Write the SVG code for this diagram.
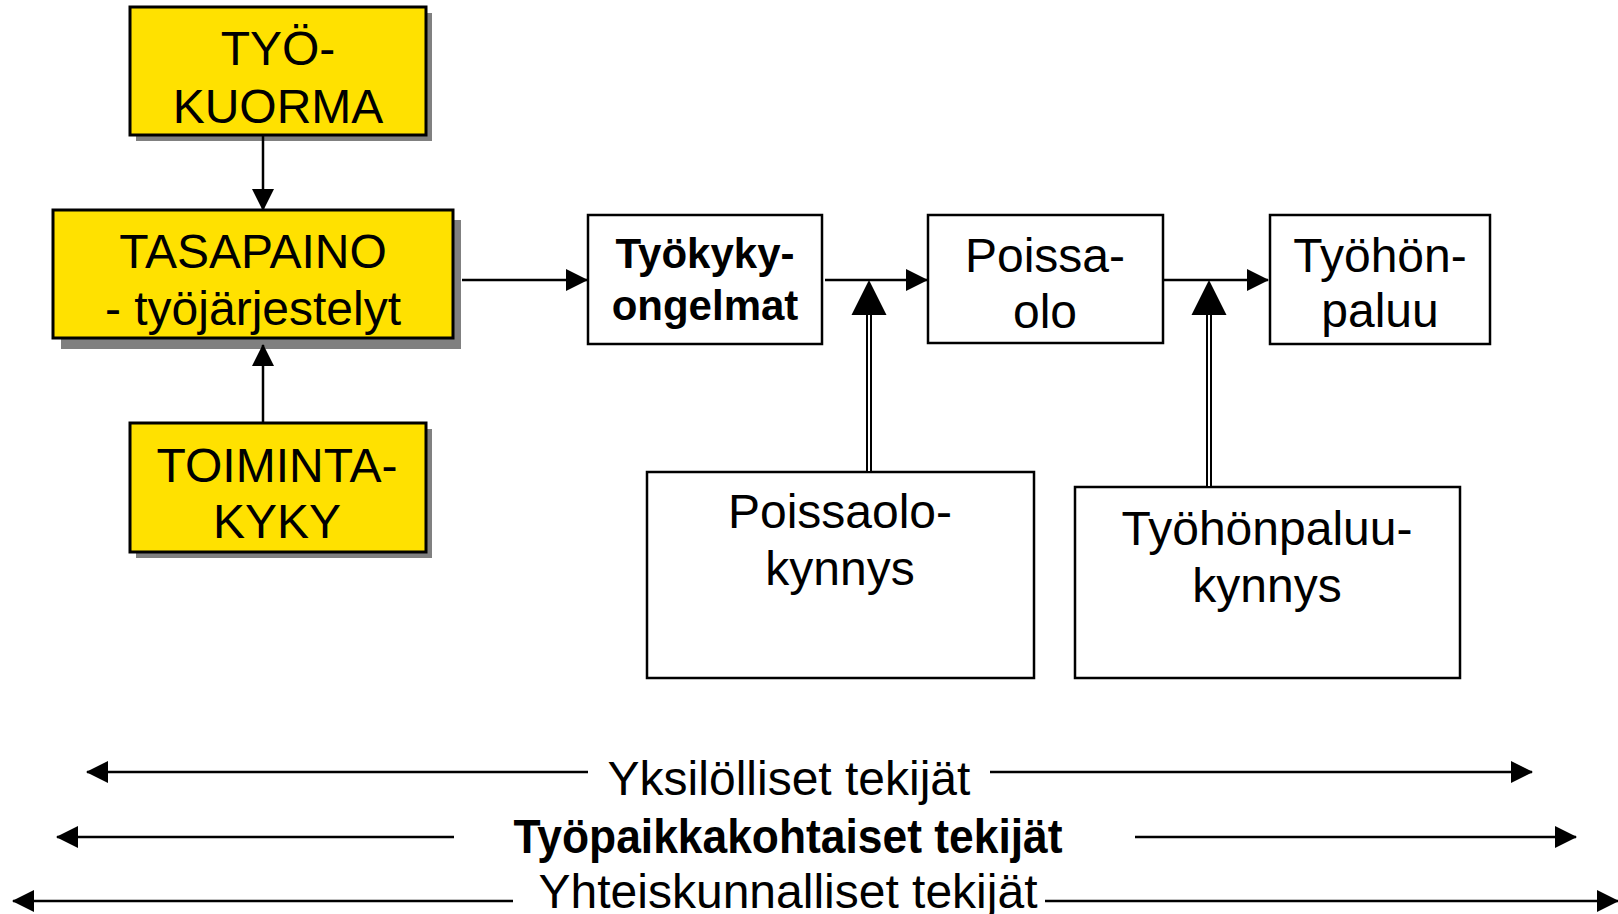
<svg xmlns="http://www.w3.org/2000/svg" width="1618" height="914" viewBox="0 0 1618 914">
<style>
.t{font-family:"Liberation Sans",Arial,sans-serif;font-size:48px;fill:#000;text-anchor:middle}
.b{font-weight:bold;font-size:42px}
.ybox{fill:#FFE100;stroke:#000;stroke-width:3}
.shadow{fill:#808080}
.wbox{fill:#fff;stroke:#000;stroke-width:2.5}
.ln{stroke:#000;stroke-width:2.5;fill:none}
.dbl{stroke:#000;stroke-width:6;fill:none}
.dbli{stroke:#fff;stroke-width:2;fill:none}
.head{fill:#000}
</style>
<defs>
<marker id="ah" markerUnits="userSpaceOnUse" markerWidth="22" markerHeight="22" refX="21" refY="11" orient="auto-start-reverse" viewBox="0 0 22 22">
<path d="M0,0 L22,11 L0,22 z" fill="#000"/>
</marker>
</defs>
<rect width="1618" height="914" fill="#fff"/>

<g id="tyokuorma">
<rect class="shadow" x="136" y="13" width="296" height="128"/>
<rect class="ybox" x="130" y="7" width="296" height="128"/>
<text class="t" x="278" y="65">TYÖ-</text>
<text class="t" x="278" y="123">KUORMA</text>
</g>

<g id="tasapaino">
<rect class="shadow" x="61" y="220" width="400" height="129"/>
<rect class="ybox" x="53" y="210" width="400" height="128"/>
<text class="t" x="253" y="268">TASAPAINO</text>
<text class="t" x="253" y="325">- työjärjestelyt</text>
</g>

<g id="toimintakyky">
<rect class="shadow" x="136" y="429" width="296" height="129"/>
<rect class="ybox" x="130" y="423" width="296" height="129"/>
<text class="t" x="277" y="482">TOIMINTA-</text>
<text class="t" x="277" y="538">KYKY</text>
</g>

<g id="tyokykyongelmat">
<rect class="wbox" x="588" y="215" width="234" height="129"/>
<text class="t b" x="705" y="268">Työkyky-</text>
<text class="t b" x="705" y="320">ongelmat</text>
</g>

<g id="poissaolo">
<rect class="wbox" x="928" y="215" width="235" height="128"/>
<text class="t" x="1045" y="272">Poissa-</text>
<text class="t" x="1045" y="328">olo</text>
</g>

<g id="tyohonpaluu">
<rect class="wbox" x="1270" y="215" width="220" height="129"/>
<text class="t" x="1380" y="272">Työhön-</text>
<text class="t" x="1380" y="327">paluu</text>
</g>

<g id="poissaolokynnys">
<rect class="wbox" x="647" y="472" width="387" height="206"/>
<text class="t" x="840" y="528">Poissaolo-</text>
<text class="t" x="840" y="585">kynnys</text>
</g>

<g id="tyohonpaluukynnys">
<rect class="wbox" x="1075" y="487" width="385" height="191"/>
<text class="t" x="1267" y="545">Työhönpaluu-</text>
<text class="t" x="1267" y="602">kynnys</text>
</g>

<g id="connectors">
<line class="ln" x1="263" y1="135" x2="263" y2="210" marker-end="url(#ah)"/>
<line class="ln" x1="263" y1="423" x2="263" y2="345" marker-end="url(#ah)"/>
<line class="ln" x1="462" y1="280" x2="587" y2="280" marker-end="url(#ah)"/>
<line class="ln" x1="825" y1="280" x2="927" y2="280" marker-end="url(#ah)"/>
<line class="ln" x1="1163" y1="280" x2="1268" y2="280" marker-end="url(#ah)"/>

<line class="dbl" x1="869" y1="314" x2="869" y2="472"/>
<line class="dbli" x1="869" y1="312" x2="869" y2="471"/>
<polygon class="head" points="869,280 886.5,315 851.5,315"/>

<line class="dbl" x1="1209" y1="314" x2="1209" y2="487"/>
<line class="dbli" x1="1209" y1="312" x2="1209" y2="486"/>
<polygon class="head" points="1209,280 1226.5,315 1191.5,315"/>

<line class="ln" x1="588" y1="772" x2="87" y2="772" marker-end="url(#ah)"/>
<line class="ln" x1="990" y1="772" x2="1532" y2="772" marker-end="url(#ah)"/>
<line class="ln" x1="454" y1="837" x2="57" y2="837" marker-end="url(#ah)"/>
<line class="ln" x1="1135" y1="837" x2="1576" y2="837" marker-end="url(#ah)"/>
<line class="ln" x1="513" y1="901" x2="13" y2="901" marker-end="url(#ah)"/>
<line class="ln" x1="1045" y1="901" x2="1618" y2="901" marker-end="url(#ah)"/>
</g>

<g id="labels">
<text class="t" x="789" y="795">Yksilölliset tekijät</text>
<text class="t" x="788" y="853" font-weight="bold" font-size="46" textLength="549" lengthAdjust="spacingAndGlyphs">Työpaikkakohtaiset tekijät</text>
<text class="t" x="788" y="908">Yhteiskunnalliset tekijät</text>
</g>
</svg>
